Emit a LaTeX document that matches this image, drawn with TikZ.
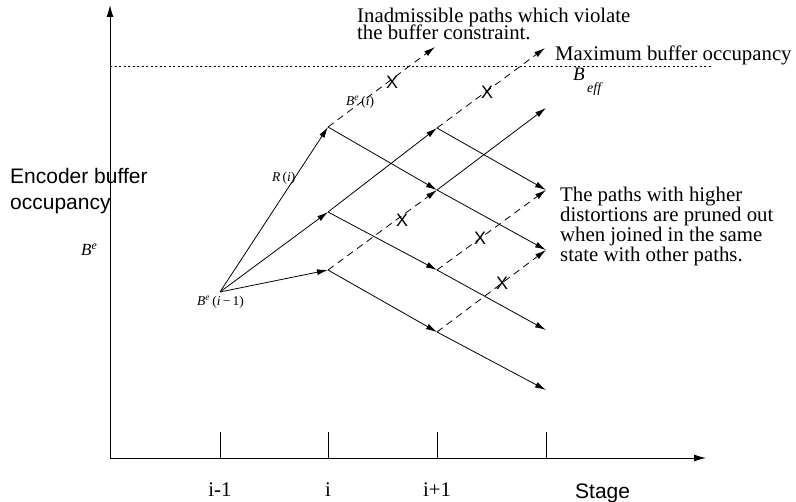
\documentclass[tikz,border=0pt]{standalone}
\usepackage{fontspec}
\setmainfont{Liberation Serif}
\newfontfamily\arialfont{Liberation Sans}
\usetikzlibrary{arrows.meta}
\begin{document}
\begin{tikzpicture}[x=1pt,y=-1pt,
  edge/.style={line width=0.8pt,-{Latex[length=11pt,width=6pt]}},
  dashedge/.style={edge,dash pattern=on 7pt off 5pt},
  axisline/.style={line width=0.9pt,-{Latex[length=12pt,width=7pt]}},
  tickline/.style={line width=0.8pt},
  limitline/.style={line width=0.8pt,dash pattern=on 2pt off 2.5pt},
  xmark/.style={font=\arialfont\fontsize{18}{18}\selectfont,inner sep=0pt},
  serif/.style={font=\fontsize{20.8}{20}\selectfont,inner sep=0pt,anchor=base west,align=left},
  sans/.style={font=\arialfont\fontsize{21}{26}\selectfont,inner sep=0pt,anchor=base west,align=left},
  small/.style={font=\fontsize{13.5}{13.5}\selectfont,inner sep=0pt,anchor=base west},
  ticklab/.style={font=\fontsize{20.8}{20}\selectfont,inner sep=0pt,anchor=base}
]
\useasboundingbox (0,0) rectangle (796,502);

% axes
\coordinate (orig) at (110,458);
\coordinate (ytop) at (110,5);
\coordinate (xend) at (706,458);
\draw[axisline] (orig) -- (ytop);
\draw[axisline] (orig) -- (xend);

% ticks
\foreach \n/\x in {t1/220,t2/328,t3/437,t4/546}{
  \coordinate (\n a) at (\x,432);
  \coordinate (\n b) at (\x,458);
  \draw[tickline] (\n a) -- (\n b);
}
\node[ticklab] (l1) at (220,497) {i-1};
\node[ticklab] (l2) at (328,497) {i};
\node[ticklab] (l3) at (437,497) {i+1};
\node[sans] (stage) at (575,499) {Stage};

% buffer limit
\coordinate (lim0) at (110,66);
\coordinate (lim1) at (712,66);
\draw[limitline] (lim0) -- (lim1);

% lattice points
\coordinate (O) at (220,292);
\coordinate (s1a) at (328,127);
\coordinate (s1b) at (328,212);
\coordinate (s1c) at (328,270);
\coordinate (s2a) at (437,128);
\coordinate (s2b) at (437,190);
\coordinate (s2c) at (437,270);
\coordinate (s2d) at (437,332);
\coordinate (e1) at (435,47);
\coordinate (e2) at (545,48);
\coordinate (e3) at (546,108);
\coordinate (e4) at (546,190);
\coordinate (e5) at (546,250);
\coordinate (e6) at (546,330);
\coordinate (e7) at (546,390);

\draw[edge] (O) -- (s1a);
\draw[edge] (O) -- (s1b);
\draw[edge] (O) -- (s1c);
\draw[dashedge] (s1a) -- (e1);
\draw[edge] (s1a) -- (s2b);
\draw[edge] (s1b) -- (s2a);
\draw[edge] (s1b) -- (s2c);
\draw[dashedge] (s1c) -- (s2b);
\draw[edge] (s1c) -- (s2d);
\draw[dashedge] (s2a) -- (e2);
\draw[edge] (s2a) -- (e4);
\draw[edge] (s2b) -- (e3);
\draw[edge] (s2b) -- (e5);
\draw[dashedge] (s2c) -- (e4);
\draw[edge] (s2c) -- (e6);
\draw[dashedge] (s2d) -- (e5);
\draw[edge] (s2d) -- (e7);

% X marks
\node[xmark] (x1) at (392,82) {X};
\node[xmark] (x2) at (487,92) {X};
\node[xmark] (x3) at (402,220) {X};
\node[xmark] (x4) at (480,238) {X};
\node[xmark] (x5) at (502,283) {X};

% small labels
\node[small] (ri) at (272,182) {\textit{R}\,(\textit{i})};
\node[small] (bei) at (346,106) {\textit{B}\textsuperscript{\textit{e}}\,(\textit{i})};
\node[small] (bei1) at (197,306) {\textit{B}\textsuperscript{\textit{e}}\,(\textit{i}\,−\,1)};

% texts (base anchor = last line's baseline)
\node[serif] (inadm) at (357,40) {Inadmissible paths which violate\\[-3pt]the buffer constraint.};
\node[serif] (maxb) at (555,61) {Maximum buffer occupancy};
\node[font=\fontsize{19}{19}\selectfont,inner sep=0pt,anchor=base west] (beff) at (573,81) {\textit{B}\raisebox{-12pt}{\fontsize{14}{14}\selectfont\,\textit{eff}}};
\node[serif] (pruned) at (560,262) {The paths with higher\\distortions are pruned out\\when joined in the same\\state with other paths.};
\node[sans] (enc) at (10,210) {Encoder buffer\\occupancy};
\node[font=\fontsize{17}{17}\selectfont,inner sep=0pt,anchor=base west] (be) at (81,256) {\textit{B}\textsuperscript{\textit{e}}};
\end{tikzpicture}
\end{document}
